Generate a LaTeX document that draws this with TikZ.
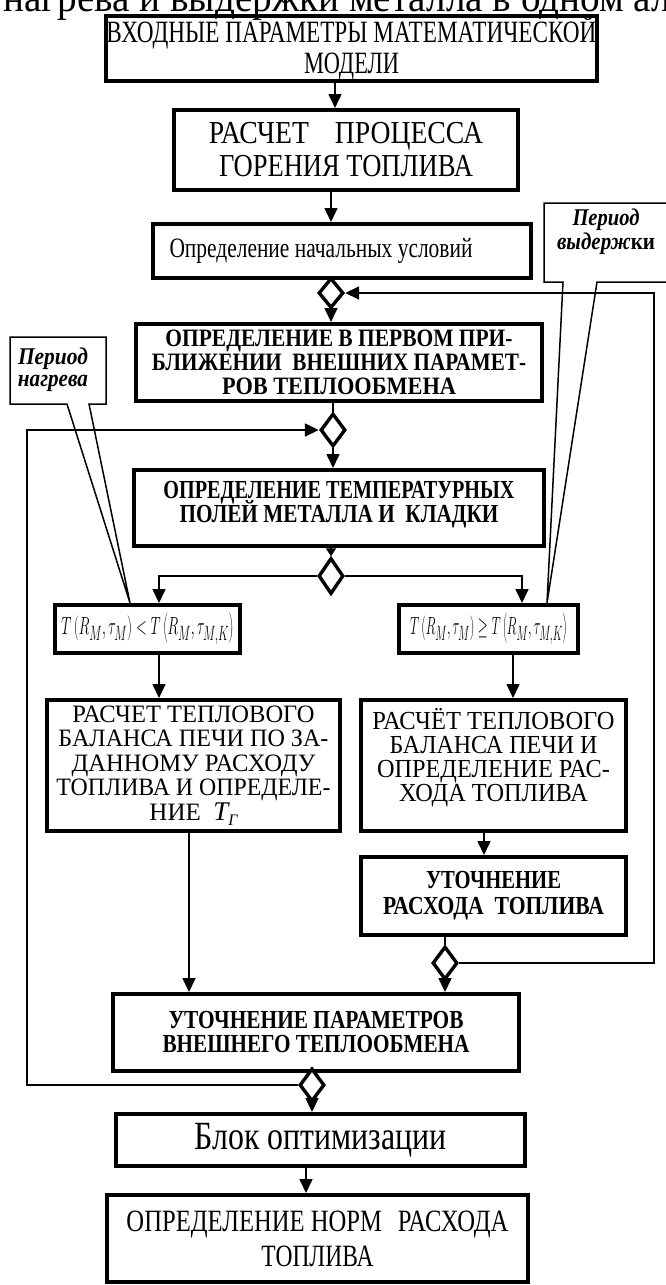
\documentclass[tikz,border=0pt]{standalone}
\usepackage{fontspec}
\setmainfont{Liberation Serif}
\usepackage{graphicx}
\usetikzlibrary{arrows.meta,shapes.geometric,backgrounds}
\newcommand{\lw}[2]{\resizebox{#1pt}{\height}{#2}}
\lineskiplimit=-100pt
\begin{document}
\begin{tikzpicture}[x=1pt,y=-1pt,
 box/.style={draw,line width=4pt,inner sep=0pt,align=center},
 dia/.style={draw,shape=diamond,line width=3.4pt,fill=white,minimum width=25pt,minimum height=33pt,inner sep=0pt},
 conn/.style={line width=1.6pt},
 arr/.style={conn,-{Triangle[length=14pt,width=13pt]}},
 sarr/.style={conn,-{Triangle[length=8pt,width=10pt]}},
 call/.style={line width=1.5pt,line join=miter},
 ctext/.style={inner sep=0pt,align=center,font=\bfseries\itshape\fontsize{24}{22}\selectfont}]
\useasboundingbox (0,0) rectangle (666,1285);

% cut-off heading line
\node[anchor=base west,inner sep=0pt,font=\fontsize{42}{42}\selectfont] (top) at (3,11) {\lw{668}{нагрева и выдержки металла в одном ал}};

% boxes
\node[box,minimum width=491pt,minimum height=65pt,font=\fontsize{31}{31}\selectfont] (b1) at (351.5,48.5)
 {\lw{490}{ВХОДНЫЕ ПАРАМЕТРЫ МАТЕМАТИЧЕСКОЙ}\\\lw{95}{МОДЕЛИ}};
\node[box,minimum width=344pt,minimum height=80pt,font=\fontsize{32}{33}\selectfont] (b2) at (346,150)
 {\lw{274}{РАСЧЕТ\hspace{30pt}ПРОЦЕССА}\\\lw{254}{ГОРЕНИЯ ТОПЛИВА}};
\node[box,minimum width=378pt,minimum height=54pt,font=\fontsize{28}{28}\selectfont] (b3) at (342,251)
 {\lw{303}{Определение начальных условий}\hspace*{42pt}};
\node[box,minimum width=406pt,minimum height=77pt,font=\bfseries\fontsize{25}{24}\selectfont] (b4) at (339,362.5)
 {\lw{347}{ОПРЕДЕЛЕНИЕ В ПЕРВОМ ПРИ-}\\\lw{374}{БЛИЖЕНИИ\ \ ВНЕШНИХ ПАРАМЕТ-}\\\lw{234}{РОВ ТЕПЛООБМЕНА}};
\node[box,minimum width=410pt,minimum height=76pt,text depth=12pt,font=\bfseries\fontsize{26}{24}\selectfont] (b5) at (339,508)
 {\lw{351}{ОПРЕДЕЛЕНИЕ ТЕМПЕРАТУРНЫХ}\\\lw{319}{ПОЛЕЙ МЕТАЛЛА И\ \ КЛАДКИ}};
\node[box,minimum width=185pt,minimum height=48pt,font=\fontsize{28}{28}\selectfont] (cl) at (147.5,629)
 {\lw{172}{$T\left(R_M,\tau_M\right)<T\left(R_M,\tau_{M,K}\right)$}};
\node[box,minimum width=179pt,minimum height=48pt,font=\fontsize{28}{28}\selectfont] (cr) at (488.5,629)
 {\lw{157}{$T\left(R_M,\tau_M\right)\geq T\left(R_M,\tau_{M,K}\right)$}};
\node[box,minimum width=293pt,minimum height=131pt,font=\fontsize{25}{24.5}\selectfont] (b6l) at (193.5,765.5)
 {\lw{242}{РАСЧЕТ ТЕПЛОВОГО}\\\lw{270}{БАЛАНСА ПЕЧИ ПО ЗА-}\\\lw{244}{ДАННОМУ РАСХОДУ}\\\lw{274}{ТОПЛИВА И ОПРЕДЕЛЕ-}\\
  \lw{88}{НИЕ\ \ {\itshape\fontsize{27}{27}\selectfont T}\raisebox{-5pt}{\itshape\fontsize{16}{16}\selectfont Г}}};
\node[box,minimum width=265pt,minimum height=131pt,text depth=22pt,font=\fontsize{26}{24}\selectfont] (b6r) at (493.5,765.5)
 {\lw{242}{РАСЧЁТ ТЕПЛОВОГО}\\\lw{208}{БАЛАНСА ПЕЧИ И}\\\lw{233}{ОПРЕДЕЛЕНИЕ РАС-}\\\lw{189}{ХОДА ТОПЛИВА}};
\node[box,minimum width=265pt,minimum height=78pt,font=\bfseries\fontsize{26}{26}\selectfont] (b7) at (493.5,896)
 {\lw{135}{УТОЧНЕНИЕ}\\\lw{221}{РАСХОДА\ \ ТОПЛИВА}};
\node[box,minimum width=406pt,minimum height=77pt,font=\bfseries\fontsize{26}{24}\selectfont] (b8) at (316,1032.5)
 {\lw{295}{УТОЧНЕНИЕ ПАРАМЕТРОВ}\\\lw{307}{ВНЕШНЕГО ТЕПЛООБМЕНА}};
\node[box,minimum width=409pt,minimum height=52pt,font=\fontsize{40}{40}\selectfont] (b9) at (320.5,1140)
 {\lw{252}{Блок оптимизации}};
\node[box,minimum width=421pt,minimum height=87pt,font=\fontsize{31}{35}\selectfont] (b10) at (317.5,1238.5)
 {\lw{382}{ОПРЕДЕЛЕНИЕ НОРМ\hspace{20pt}РАСХОДА}\\\lw{112}{ТОПЛИВА}};

% diamonds
\node[dia,minimum height=30pt] (d1) at (331,293) {};
\node[dia] (d2) at (333,430) {};
\node[dia,minimum height=36pt] (d3) at (331,576) {};
\node[dia] (d4) at (445,963) {};
\node[dia] (d5) at (312,1085) {};

% callouts
\draw[call] (89,404) -- (106,404) -- (106,337) -- (10,337) -- (10,404) -- (67,404) -- (130,603) -- cycle;
\node[ctext] (tl) at (53,370) {\lw{70}{Период}\\\lw{70}{нагрева}};
\draw[call] (680,203) -- (544,203) -- (544,282) -- (563,282) -- (547,603) -- (597,282) -- (680,282);
\node[ctext,font=\bfseries\itshape\fontsize{24}{24}\selectfont] (tr) at (606,232) {\lw{67}{Период}\\\lw{98}{выдерж\upshape ки}};

\coordinate (k335) at (335,0);
\coordinate (k331) at (331,0);
\coordinate (k159) at (159,0);
\coordinate (k522) at (522,0);
\coordinate (k513) at (513,0);
\coordinate (k189) at (189,0);
\coordinate (k484) at (484,0);
\coordinate (k654) at (654,0);
\coordinate (k27) at (27,0);
\coordinate (k306) at (306,0);

\begin{scope}[on background layer]
\fill[white] (0,0) rectangle (666,1285);
\draw[arr] (b1.south -| k335) -- (b2.north -| k335);
\draw[arr] (b2.south -| k331) -- (b3.north -| k331);
\draw[arr] (d1.south) -- (b4.north -| d1.south);
\draw[conn] (b4.south -| d2.north) -- (d2.north);
\draw[arr] (d2.south) -- (b5.north -| d2.south);
\draw[sarr] (b5.south -| d3.north) -- (d3.north);
\draw[arr] (d3.west) -| (cl.north -| k159);
\draw[arr] (d3.east) -| (cr.north -| k522);
\draw[arr] (cl.south -| k159) -- (b6l.north -| k159);
\draw[arr] (cr.south -| k513) -- (b6r.north -| k513);
\draw[arr] (b6l.south -| k189) -- (b8.north -| k189);
\draw[arr] (b6r.south -| k484) -- (b7.north -| k484);
\draw[conn] (b7.south -| d4.north) -- (d4.north);
\draw[arr] (d4.south) -- (b8.north -| d4.south);
\draw[arr] (d4.east) -- (d4.east -| k654) -- (d1.east -| k654) -- (d1.east);
\draw[conn] (b8.south -| d5.north) -- (d5.north);
\draw[arr] (d5.south) -- (b9.north -| d5.south);
\draw[arr] (d5.west) -- (d5.west -| k27) -- (d2.west -| k27) -- (d2.west);
\draw[arr] (b9.south -| k306) -- (b10.north -| k306);
\end{scope}
\end{tikzpicture}
\end{document}
